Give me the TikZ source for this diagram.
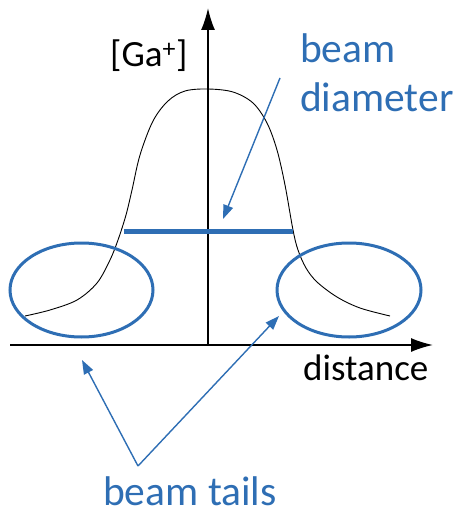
\documentclass[tikz,border=0pt]{standalone}
\usepackage{fontspec}
\setmainfont{Carlito}
\usetikzlibrary{arrows.meta}
\definecolor{bblue}{RGB}{46,110,180}
\tikzset{
  axis/.style={line width=1.6pt, -{Latex[length=22pt,width=14pt]}},
  blacktext/.style={anchor=base west, inner sep=0pt, font=\fontsize{37}{40}\selectfont, text=black},
  bluetext/.style={anchor=base west, inner sep=0pt, font=\fontsize{41.5}{44}\selectfont, text=bblue},
  pointer/.style={draw=bblue, line width=1.4pt, -{Triangle[length=14pt,width=10pt]}},
  tail/.style={draw=bblue, line width=3pt},
}
\begin{document}
\begin{tikzpicture}[x=1pt,y=-1pt]
\useasboundingbox (0,0) rectangle (456,516);
% axes
\coordinate (origin) at (208,345);
\coordinate (ytip) at (208,8);
\coordinate (xstart) at (10,345);
\coordinate (xtip) at (433,345);
\draw[axis] (origin) -- (ytip);
\draw[axis] (xstart) -- (xtip);
% curve
\draw[line width=0.9pt] plot[smooth, tension=0.55] coordinates {
  (25,316) (50,310) (77,300) (97,283) (110,260) (118,240) (126,215) (132,190)
  (140,155) (153,121) (168,101) (185,91) (208,89) (233,92) (253,103)
  (267,123) (277,150) (285,185) (293,230) (298,250) (306,268) (317,282) (337,297)
  (360,308) (390,316)};
% beam diameter bar
\coordinate (barL) at (124,231);
\coordinate (barR) at (293,231);
\draw[bblue, line width=5pt] (barL) -- (barR);
% tails
\draw[tail] (81.5,290) ellipse [x radius=71.5, y radius=47];
\draw[tail] (349,290) ellipse [x radius=72, y radius=47];
% texts
\node[blacktext] (ga) at (110,67) {[Ga\textsuperscript{+}]};
\node[blacktext] (dist) at (303,380) {distance};
\node[bluetext] (beam) at (300,63) {beam};
\node[bluetext] (diam) at (300,112) {diameter};
\node[bluetext] (tails) at (103,505) {beam tails};
% pointers
\coordinate (dstart) at (280,78);
\coordinate (dtip) at (223,219);
\draw[pointer] (dstart) -- (dtip);
\coordinate (apex) at (138,466);
\coordinate (ltip) at (82,360);
\coordinate (rtip) at (279,316);
\draw[pointer] (apex) -- (ltip);
\draw[pointer] (apex) -- (rtip);
\end{tikzpicture}
\end{document}
